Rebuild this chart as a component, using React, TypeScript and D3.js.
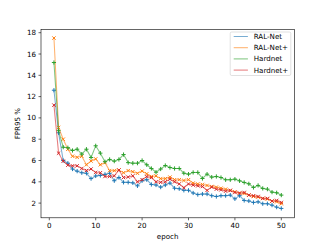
import React from "react"
import * as d3 from "d3"

const epochs = d3.range(1, 51)

const ralNet = [
  12.6, 8.6, 6.0, 5.75, 5.2, 5.0, 4.85, 4.8, 4.3, 4.55,
  4.6, 4.7, 4.8, 4.1, 4.4, 3.95, 3.95, 3.9, 3.62, 4.1,
  4.2, 3.75, 3.7, 3.5, 3.7, 3.88, 3.4, 3.35, 3.2, 3.2,
  2.95, 2.8, 2.85, 2.85, 2.7, 2.62, 2.7, 2.7, 2.75, 2.4,
  2.7, 2.25, 2.2, 2.06, 2.12, 1.94, 1.94, 1.81, 1.62, 1.5,
]

const ralNetPlus = [
  17.5, 9.1, 8.0, 7.05, 6.4, 6.3, 6.4, 5.6, 5.95, 6.15,
  5.6, 5.8, 5.05, 5.05, 5.1, 4.85, 5.05, 4.95, 4.8, 5.0,
  4.75, 4.5, 4.55, 4.3, 4.3, 4.44, 4.2, 4.2, 4.12, 4.2,
  3.88, 3.8, 3.75, 3.66, 3.56, 3.5, 3.4, 3.31, 3.19, 3.06,
  2.94, 2.9, 2.75, 2.62, 2.56, 2.44, 2.38, 2.19, 2.12, 1.94,
]

const hardnet = [
  15.2, 8.8, 7.25, 7.2, 6.94, 7.06, 6.6, 7.06, 6.28, 7.38,
  6.69, 5.88, 6.1, 5.94, 6.1, 6.56, 5.8, 5.75, 5.75, 6.0,
  5.6, 5.25, 4.9, 5.2, 5.53, 5.34, 5.25, 5.25, 4.81, 4.72,
  4.88, 4.88, 4.31, 4.72, 4.44, 4.5, 4.4, 4.19, 4.19, 4.25,
  4.09, 3.94, 3.81, 3.47, 3.66, 3.38, 3.31, 3.03, 2.97, 2.75,
]

const hardnetPlus = [
  11.2, 6.69, 5.94, 5.56, 5.5, 5.5, 5.25, 5.06, 5.2, 4.88,
  4.85, 4.5, 4.5, 4.56, 5.1, 4.4, 4.45, 4.56, 4.0, 4.2,
  4.5, 4.4, 4.0, 3.95, 4.0, 4.25, 4.0, 3.8, 3.44, 3.8,
  3.69, 3.62, 3.56, 3.19, 3.5, 3.31, 3.25, 3.12, 3.19, 3.0,
  2.94, 3.0, 2.75, 2.69, 2.62, 2.44, 2.44, 2.19, 2.25, 2.06,
]

const seriesNames = ["RAL-Net", "RAL-Net+", "Hardnet", "Hardnet+"]
const seriesColors = ["#1f77b4", "#ff7f0e", "#2ca02c", "#d62728"]
const seriesMarkers = ["plus", "x", "plus", "x"]
const xTicks = [0, 10, 20, 30, 40, 50]
const yTicks = [2, 4, 6, 8, 10, 12, 14, 16, 18]

const W = 327
const H = 245
const left = 41
const right = 294.3
const top = 29.4
const bottom = 217.8
const font = "DejaVu Sans, sans-serif"
const fs = 7.1

const Marker = ({ type, x, y, color }) => {
  const r = 2.1
  if (type === "plus") {
    return (
      <path
        d={`M${x - r},${y}H${x + r}M${x},${y - r}V${y + r}`}
        stroke={color}
        strokeWidth={1}
      />
    )
  }
  const q = r * 0.8
  return (
    <path
      d={`M${x - q},${y - q}L${x + q},${y + q}M${x - q},${y + q}L${x + q},${y - q}`}
      stroke={color}
      strokeWidth={1}
    />
  )
}

export default function App() {
  const all = [ralNet, ralNetPlus, hardnet, hardnetPlus]

  // limits
  const x = d3.scaleLinear().domain([-1.79, 52.8]).range([left, right])
  const y = d3.scaleLinear().domain([0.62, 18.31]).range([bottom, top])

  const line = d3
    .line()
    .x((d, i) => x(epochs[i]))
    .y((d) => y(d))

  return (
    <svg
      width={W}
      height={H}
      style={{ position: "absolute", left: 0, top: 0, background: "#fff" }}
      fontFamily={font}
    >
      <rect width={W} height={H} fill="#fff" />
      {all.map((s, k) => (
        <g key={k}>
          <path
            d={line(s)}
            fill="none"
            stroke={seriesColors[k]}
            strokeOpacity={0.6}
            strokeWidth={1.05}
          />
          {s.map((v, i) => (
            <Marker key={i} type={seriesMarkers[k]} x={x(epochs[i])} y={y(v)} color={seriesColors[k]} />
          ))}
        </g>
      ))}

      <rect
        x={left}
        y={top}
        width={right - left}
        height={bottom - top}
        fill="none"
        stroke="#000"
        strokeWidth={0.6}
      />

      {xTicks.map((t) => (
        <g key={t} transform={`translate(${x(t)},${bottom})`}>
          <line y2={2.5} stroke="#000" strokeWidth={0.6} />
          <text y={10.2} textAnchor="middle" fontSize={fs} fill="#000">
            {t}
          </text>
        </g>
      ))}
      {yTicks.map((t) => (
        <g key={t} transform={`translate(${left},${y(t)})`}>
          <line x2={-2.5} stroke="#000" strokeWidth={0.6} />
          <text x={-5} dy="0.35em" textAnchor="end" fontSize={fs} fill="#000">
            {t}
          </text>
        </g>
      ))}

      <text x={(left + right) / 2} y={238.5} textAnchor="middle" fontSize={fs} fill="#000">
        epoch
      </text>
      <text
        transform={`translate(20,${(top + bottom) / 2}) rotate(-90)`}
        textAnchor="middle"
        fontSize={fs}
        fill="#000"
      >
        FPR95 %
      </text>

      <g transform="translate(230.2,32)">
        <rect
          width={60.6}
          height={43.5}
          rx={1.5}
          fill="#fff"
          fillOpacity={0.8}
          stroke="#ccc"
          strokeWidth={0.6}
        />
        {seriesNames.map((n, i) => (
          <g key={n} transform={`translate(0,${4.5 + i * 11.2})`}>
            <line
              x1={3.5}
              x2={17.7}
              stroke={seriesColors[i]}
              strokeOpacity={0.6}
              strokeWidth={1.05}
            />
            <text x={23.5} dy="0.35em" fontSize={fs} fill="#000">
              {n}
            </text>
          </g>
        ))}
      </g>
    </svg>
  )
}
